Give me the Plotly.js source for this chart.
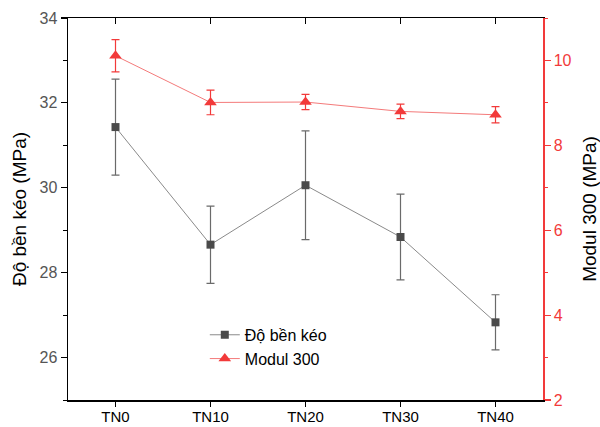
<!DOCTYPE html>
<html>
<head>
<meta charset="utf-8">
<script src="https://cdn.plot.ly/plotly-3.0.1.min.js"></script>
<style>html,body{margin:0;padding:0;background:#fff;}#chart{width:600px;height:427px;}</style>
</head>
<body>
<div id="chart"></div>
<script>
const categories = ["TN0", "TN10", "TN20", "TN30", "TN40"];
const tensile = [31.43, 28.66, 30.06, 28.84, 26.83];
const tensileErr = [1.13, 0.91, 1.28, 1.01, 0.65];
const modulus = [10.11, 9.01, 9.02, 8.80, 8.72];
const modulusErr = [0.38, 0.29, 0.18, 0.17, 0.19];

const FONT = "Arial, 'Liberation Sans', sans-serif";
const RED = "#f23a3a";

const traces = [
  {
    x: categories, y: tensile, name: "Độ bền kéo", type: "scatter", mode: "lines+markers",
    line: {color: "#8a8a8a", width: 1},
    marker: {symbol: "square", size: 8, color: "#4a4a4a"},
    error_y: {type: "data", array: tensileErr, visible: true, color: "#6a6a6a", thickness: 1.2, width: 4},
    xaxis: "x", yaxis: "y"
  },
  {
    x: categories, y: modulus, name: "Modul 300", type: "scatter", mode: "lines+markers",
    line: {color: "#f47a7a", width: 1},
    marker: {symbol: "triangle-up", size: 11, color: RED},
    error_y: {type: "data", array: modulusErr, visible: true, color: RED, thickness: 1.2, width: 4},
    xaxis: "x", yaxis: "y2"
  },
  {
    x: categories, y: categories.map(() => null), showlegend: false, hoverinfo: "skip",
    type: "scatter", mode: "markers", xaxis: "x2", yaxis: "y"
  }
];

const layout = {
  width: 600, height: 427,
  margin: {l: 68, r: 57, t: 18, b: 27},
  paper_bgcolor: "#fff", plot_bgcolor: "#fff",
  font: {family: FONT, size: 16, color: "#000"},
  showlegend: true,
  legend: {x: 0.288, y: 0.215, xanchor: "left", yanchor: "top", bgcolor: "rgba(0,0,0,0)",
           font: {family: FONT, size: 16, color: "#000"}, tracegroupgap: 0, itemwidth: 30},
  xaxis: {
    type: "category", range: [-0.5, 4.5], showgrid: false, zeroline: false,
    showline: true, linecolor: "#000", linewidth: 1.5,
    ticks: "outside", ticklen: 5, tickcolor: "#000", tickwidth: 1.2,
    ticklabelstandoff: -3,
    tickfont: {family: FONT, size: 15, color: "#000"}
  },
  xaxis2: {
    type: "category", range: [-0.5, 4.5], overlaying: "x", side: "top", anchor: "y",
    showgrid: false, zeroline: false, showline: true, linecolor: "#000", linewidth: 1.5,
    ticks: "inside", ticklen: 6, tickcolor: "#000", tickwidth: 1.2, showticklabels: false
  },
  yaxis: {
    range: [25, 34], dtick: 2, tick0: 26, showgrid: false, zeroline: false,
    showline: true, linecolor: "#000", linewidth: 1.5,
    ticks: "outside", ticklen: 6, tickcolor: "#000", tickwidth: 1.2,
    minor: {dtick: 1, tick0: 25, ticks: "outside", ticklen: 3.5, tickcolor: "#000", tickwidth: 1, showgrid: false},
    tickfont: {family: FONT, size: 16, color: "#555"},
    title: {text: "Độ bền kéo (MPa)", font: {family: FONT, size: 19, color: "#000"}, standoff: 8}
  },
  yaxis2: {
    range: [2, 11], dtick: 2, tick0: 2, overlaying: "y", side: "right", anchor: "x",
    showgrid: false, zeroline: false,
    showline: true, linecolor: RED, linewidth: 1.5,
    ticks: "outside", ticklen: 6, tickcolor: RED, tickwidth: 1.2,
    minor: {dtick: 1, tick0: 2, ticks: "outside", ticklen: 3.5, tickcolor: RED, tickwidth: 1, showgrid: false},
    tickfont: {family: FONT, size: 16, color: RED},
    title: {text: "Modul 300 (MPa)", font: {family: FONT, size: 19, color: "#000"}, standoff: 12}
  }
};

Plotly.newPlot("chart", traces, layout, {displayModeBar: false, staticPlot: true});
</script>
</body>
</html>
